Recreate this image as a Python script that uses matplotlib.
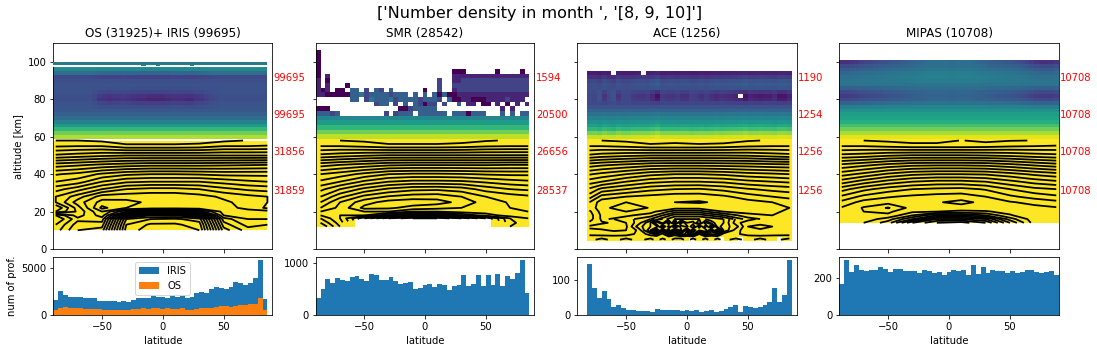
import matplotlib
matplotlib.use("Agg")
import matplotlib.pyplot as plt
import numpy as np

W, H = 1097, 353
nan = np.nan

titles = ["OS (31925)+ IRIS (99695)", "SMR (28542)", "ACE (1256)", "MIPAS (10708)"]
red_labels = [["99695", "99695", "31856", "31859"],
              ["1594", "20500", "26656", "28537"],
              ["1190", "1254", "1256", "1256"],
              ["10708", "10708", "10708", "10708"]]
red_alts = [91.7, 71.7, 51.7, 31.2]

# number of profiles per 4 degree latitude bin
iris_counts = [1600, 2550, 2150, 1950, 1950, 1950, 1850, 1850, 1800, 1550, 1500, 1500, 1500, 1400, 1500,
               1400, 1600, 1850, 1850, 1850, 2050, 1950, 1950, 1850, 2050, 1950, 2050, 1850, 1900,
               2350, 2500, 2400, 2750, 3000, 2900, 2800, 3000, 3550, 3400, 3200, 3400, 3950, 5900, 1750]
os_counts = [550, 750, 850, 800, 750, 750, 650, 650, 600, 600, 500, 500, 500, 500, 500, 500, 600, 650, 750,
             650, 750, 750, 650, 750, 650, 650, 750, 550, 550, 650, 750, 750, 800, 850, 950, 950, 850,
             1000, 1050, 1050, 1150, 1200, 1800, 550]
smr_counts = [330, 503, 697, 619, 716, 677, 658, 735, 755, 697, 658, 794, 774, 677, 677, 735, 658, 600, 619,
              639, 503, 523, 581, 600, 542, 600, 581, 484, 561, 581, 774, 561, 600, 774, 561, 774, 581, 794,
              561, 755, 697, 813, 1065, 426]
ace_counts = [145, 77, 49, 69, 46, 23, 29, 20, 14, 14, 11, 11, 11, 9, 17, 14, 14, 14, 14, 11, 14, 11, 14, 9,
              11, 14, 9, 11, 17, 23, 29, 9, 26, 23, 20, 23, 29, 37, 77, 37, 57, 157]
mipas_counts = [169, 300, 235, 273, 245, 240, 245, 245, 262, 251, 235, 251, 251, 240, 240, 240, 229, 245, 240,
                229, 235, 218, 235, 245, 240, 245, 218, 273, 225, 262, 229, 245, 240, 240, 229, 240, 229, 235,
                245, 245, 235, 229, 235, 240, 218]

# colour value (0-1 of viridis) by altitude, above 59 km
os_alts = [60, 62, 64, 66, 68, 70, 72, 74, 76, 78, 80, 82, 84, 86, 88, 90, 92, 94, 96, 98]
os_profile = [.88, .78, .66, .54, .43, .35, .30, .27, .26, .25, .24, .24, .25, .25, .25, .24, .22, .36, .46, .50]
os_weight = [0, 0, 0, 0, 0, 0, 0, 0, -.03, -.07, -.14, -.11, -.05, -.01, 0, 0, -.03, -.04, 0, 0]
os_shape = [0, 0, 0, 0, 0, 0, 0, 0, .2, .6, .7, .8, .7, .7, .6, .7, .8, .9, .9, 1, 1, 1, 1, .9, .8, .8, .8,
            .9, .9, .7, .6, .4, .2, .1, 0, 0, 0, 0, 0, 0, 0, 0, 0, 0]
os_gap_cols = [18, 21, 28]

ace_alts = [60, 62, 64, 66, 68, 70, 72, 74, 76, 78, 80, 82, 84, 86, 88, 90, 92, 94]
ace_profile = [.92, .80, .66, .57, .50, .44, .38, .31, .25, .21, .19, .18, .21, .24, .25, .22, .15, .08]
ace_weight = [.03, .05, .05, .04, .03, .02, .02, .01, 0, -.03, -.12, -.14, -.08, .02, .05, .05, .04, .02]
ace_shape = [-.3, -.2, -.5, .2, -.3, -.5, .2, -.2, -.2, .1, .2, .2, .1, .5, 1, .1, .2, .2, .1, .3, .3, 0, .1,
             .3, .1, .3, .5, .3, .4, .5, .6, .7, 1, .6, .7, .8, .7, .7, .5, .9, .9, .6]
ace_holes = [(17, 5), (17, 11), (11, 31)]
ace_bottom = [4.5] * 21 + [6.5] + [4.5] * 5 + [6.5] + [4.5] * 3 + [6.5] + [4.5] * 7 + [6.5] + [4.5] * 2

mipas_alts = [60, 62, 64, 66, 68, 70, 72, 74, 76, 78, 80, 82, 84, 86, 88, 90, 92, 94, 96, 98, 100]
mipas_profile = [.96, .87, .78, .70, .63, .58, .56, .50, .44, .35, .28, .25, .28, .33, .38, .40, .40, .38, .34, .30, .26]
mipas_weight = [0, 0, 0, 0, 0, 0, 0, 0, .02, .04, .06, .08, .06, .03, 0, .02, .04, .05, .06, .08, .12]
mipas_shape = [-1, -1, -.9, -.8, -.6, -.5, -.4, -.3, -.2, -.1, 0, .1, .2, .3, .4, .5, .6, .7, .8, .8, .8, .8,
               .7, .7, .8, .8, .8, .7, .6, .5, .4, .3, .2, .2, .1, 0, -.1, -.3, -.5, -.7, -.9, -1, -1, -1, -.8]

# SMR above 71 km, one row of 44 cells per 2.5 km from the top, '.' is no data, digit is colour/10
smr_rows = ["0...........................................",
            "0...........................................",
            "0...........................................",
            "0...........................................",
            "0...........................000......0....0.",
            "0.1.........................1111111111111111",
            "1.0......................2..1122222222222222",
            "1.1...0..................2..2222222222222222",
            "101.00.33.2.32.3......0..2..1222222222222222",
            "1100000334233332333.3.3.303001111111111111111",
            ".......33.2433342333323332.3001100011112111",
            "............233.2.3.32022.2..3.11.00.1.0.1.1",
            "000..............00233333.............1.1...",
            "33323.........2.2333.333333.3330333...3.3.33"]
smr_low_alts = [60, 62.5, 65, 67.5, 70]
smr_low_values = [.90, .78, .66, .55, .46]
smr_bottom = [11.6, 11.6, 11.6, 11.6, 11.6, 11.6, 11.6, 11.6, 16.4, 16.4, 16.4, 16.4, 16.4, 16.4, 16.4, 16.4,
              16.4, 16.4, 16.4, 16.4, 16.4, 16.4, 16.4, 16.4, 16.4, 16.4, 16.4, 16.4, 16.4, 16.4, 16.4, 16.4,
              16.4, 16.4, 16.4, 16.4, 11.6, 11.6, 11.6, 11.6, 11.6, 11.6, 11.6, 11.6]

# density in contour level units, rows are altitudes, columns latitudes
z_lats = [-88, -70, -50, -30, -10, 10, 30, 50, 70, 86]
os_z_alts = [10, 13, 16, 18, 20, 22, 25, 28, 32, 36, 40, 45, 50, 55, 58]
os_z = [[17.5, 15, 14.5, 5.5, 4.5, 4.5, 5, 13.5, 15.5, 15],
        [18, 15.5, 15.5, 6, 4.8, 4.8, 5.5, 14.5, 16.4, 16],
        [19, 16.3, 16.5, 7, 6, 5.8, 6.5, 15.5, 17, 17],
        [18, 15.5, 17.5, 11, 8, 8, 10, 17, 17.3, 17.2],
        [13, 15.2, 18, 15, 13, 13, 14.5, 17.4, 17.4, 17.4],
        [12, 15.5, 19.3, 18, 17.8, 17.7, 17.7, 17.4, 16.7, 15.8],
        [14, 16.5, 18.4, 18.3, 17.8, 17.7, 17.6, 17.2, 16.6, 16],
        [14, 15.5, 17.5, 17.6, 17.7, 17.7, 17.4, 16.8, 16.3, 16],
        [12.6, 13.6, 15, 16, 16.3, 16.3, 16, 15.3, 14.8, 14.6],
        [11, 11.5, 13, 13.8, 14, 14, 14, 13.6, 13.2, 13],
        [9.9, 10.3, 11.2, 11.8, 12, 12, 11.9, 11.7, 11.7, 11.7],
        [7.5, 7.8, 8.2, 8.5, 8.7, 8.7, 8.7, 8.8, 8.9, 9],
        [4.2, 4.5, 4.8, 5, 5, 5, 5, 5, 5, 5],
        [1.9, 2, 2, 1.4, 1.4, 1.4, 1.5, 2, 2, 2.1],
        [1, 1, .8, .2, .2, .2, .4, .8, 1.05, 1.1]]

smr_lats = [-86, -70, -50, -30, -10, 10, 30, 50, 70, 85]
smr_z_alts = [12, 14, 16.4, 18, 20, 22, 25, 28, 32, 36, 40, 45, 50, 55, 58]
smr_z = [[21, 18, nan, nan, nan, nan, nan, nan, 16, 17],
         [20, 17.5, nan, nan, nan, nan, nan, nan, 15.7, 16.6],
         [19, 17, 13, 9, 7, 7, 9, 12, 16, 17],
         [18, 17, 17, 15, 13, 13, 15, 16.5, 17.5, 17.5],
         [17, 18, 18, 18, 17, 17, 17.5, 17.5, 17.2, 17],
         [16, 17.3, 19.3, 19.2, 18.6, 18.3, 18, 17.5, 17, 16.7],
         [15, 17, 18.6, 19.4, 19.6, 19.4, 18.7, 17.5, 16.9, 16.5],
         [14, 15.7, 17.3, 18.1, 18.5, 18.6, 18, 17, 16.5, 16.2],
         [12.7, 14, 15.3, 16.2, 16.7, 16.8, 16.5, 15.6, 15, 14.8],
         [11.2, 12, 13.2, 14, 14.3, 14.3, 14.2, 13.8, 13.4, 13.2],
         [10, 10.5, 11.3, 12, 12.2, 12.2, 12.1, 11.9, 11.8, 11.8],
         [7.6, 8, 8.4, 8.8, 8.9, 8.9, 8.9, 8.9, 9, 9],
         [4.3, 4.6, 4.9, 5.1, 5.1, 5.1, 5.1, 5.1, 5.1, 5.1],
         [2, 2, 1.8, 1.5, 1.5, 1.5, 1.6, 1.9, 2, 2],
         [1.1, 1, .8, .2, .2, .2, .5, .9, 1.1, 1.1]]

ace_lats = [-80, -70, -50, -30, -10, 10, 30, 50, 70, 84]
ace_z_alts = [16, 18, 20, 22, 25, 28, 32, 36, 40, 45, 50, 55, 58]
ace_z = [[15.5, 17.2, 16.5, 15, 12, 12, 13, 15.5, 16.5, 16.3],
         [15.5, 17.2, 17.2, 16.5, 13.5, 13.5, 15, 16.7, 17, 16.6],
         [15.8, 17.4, 18, 17.4, 15.5, 15.5, 17, 17.3, 17.2, 16.8],
         [16.4, 17.6, 18.8, 17.9, 17.4, 17.4, 17.6, 17.5, 17.2, 17],
         [16, 17.6, 18, 18, 18, 18.1, 17.8, 17.4, 17, 16.6],
         [14.5, 16.4, 17, 17.3, 17.6, 17.6, 17.2, 16.5, 16, 15.7],
         [13.2, 14.3, 15, 15.7, 16, 16.1, 15.7, 15.1, 14.7, 14.5],
         [11.5, 12, 13, 13.7, 14, 14, 13.8, 13.3, 13, 12.8],
         [9.9, 10.3, 11, 11.7, 12, 12, 11.8, 11.4, 11.2, 11],
         [7.5, 7.8, 8.2, 8.6, 8.7, 8.7, 8.6, 8.5, 8.3, 8.2],
         [4.2, 4.5, 4.8, 5, 5, 5, 5, 4.9, 4.6, 4.4],
         [2, 2, 1.8, 1.5, 1.5, 1.5, 1.6, 1.9, 2, 2],
         [1.1, 1, .8, .2, .6, .2, .4, .9, 1.1, 1.1]]
ace_low_lats = [-80, -70, -60, -50, -40, -30, -25, -20, -15, -10, -5, 0, 5, 10, 15, 20, 25, 30, 40, 50, 60, 70, 84]
ace_low_alts = [5, 6.5, 8, 10, 12, 14, 16]
ace_low_z = [[15.7, 16.3, 15.7, 16.3, 15.7, 16.3, 15.7, 16.3, 15.7, 16.3, 16.3, 15.7, 16.3, 15.7, 16.3, 15.7, 16.3, 15.7, 16.3, 15.7, 16.3, 15.7, 16.3],
             [15.6, 15.6, 15.6, 15.6, 15.6, 15.6, 15.6, 15.6, 15.6, 15.6, 15.6, 15.6, 15.6, 15.6, 15.6, 15.6, 15.6, 15.6, 15.6, 15.6, 15.6, 15.6, 15.6],
             [16.3, 16.4, 16.6, 16.4, 15.8, 14.5, 13.5, 15.5, 10.5, 14.5, 12, 13.5, 9.5, 15, 11.5, 14, 13, 15.5, 15.8, 16.4, 16.6, 16.4, 16.3],
             [16.8, 16.9, 17.1, 17, 15.8, 12, 9.5, 13.5, 8.4, 12, 9.6, 13, 8.3, 10, 9.2, 12.5, 8.7, 13, 15.5, 16.8, 16.9, 16.8, 16.7],
             [17.2, 17.3, 17.4, 17.2, 14.5, 13, 12.5, 8.6, 11.5, 7.4, 10.5, 9.7, 12, 8.4, 11.5, 7.5, 12.5, 13.5, 14.5, 17, 17.2, 17, 17],
             [16.2, 16.9, 17.1, 17, 15.5, 13, 10, 12.5, 9, 14, 8.5, 11, 10.5, 13, 9.4, 11.5, 12.5, 13, 15.5, 16.8, 16.8, 16.7, 16.5],
             [15.5, 17.2, 17, 16.5, 15.7, 15, 13.5, 13, 12, 12, 12, 12, 12, 12, 12, 12.5, 13, 13, 15.1, 15.5, 16.3, 16.5, 16.3]]

mipas_lats = [-88, -70, -50, -30, -10, 10, 30, 50, 70, 88]
mipas_z_alts = [14, 16, 18, 20, 22, 25, 28, 32, 36, 40, 45, 50, 55, 58]
mipas_z = [[17.5, 17, 15.5, 11, 9, 8.5, 10, 14, 17.5, 17.5],
           [17.5, 17.6, 16.5, 14, 11, 11, 12, 15.5, 17.6, 17.5],
           [17.3, 17.9, 17.8, 16, 14, 14, 15, 16.9, 17.7, 17.5],
           [17.2, 18, 18.2, 17.2, 17, 16.8, 16.9, 17.3, 17.6, 17.3],
           [17.1, 18.1, 19.1, 17.6, 17.6, 17.5, 17.5, 17.5, 17.3, 17.1],
           [16.3, 17.4, 17.6, 17.7, 17.9, 18.3, 17.7, 17.1, 16.7, 16.3],
           [15.2, 16.3, 16.9, 17.2, 17.4, 17.5, 17, 16.2, 15.6, 15.2],
           [13.6, 14.7, 15.5, 16, 16.2, 16.3, 15.9, 15, 14.3, 14],
           [11.5, 12.5, 13.4, 14, 14.3, 14.3, 14, 13.3, 12.6, 12.2],
           [9.6, 10.3, 11.2, 11.8, 12, 12, 11.9, 11.4, 10.8, 10.4],
           [7.2, 7.7, 8.3, 8.7, 8.8, 8.8, 8.7, 8.3, 7.8, 7.4],
           [4.3, 4.5, 4.9, 5.1, 5.1, 5.1, 5, 4.8, 4.5, 4.3],
           [2, 2, 1.8, 1.6, 1.6, 1.6, 1.7, 1.9, 2, 2.1],
           [1.05, 1, .8, .5, .5, 1.05, .7, .95, 1.02, 1.05]]


def px_axes(fig, left, right, top, bottom):
    return fig.add_axes([left / W, 1 - bottom / H, (right - left) / W, (bottom - top) / H])


# draws the band of colours above 59 km from a profile and a latitude shape
def draw_upper(ax, lat_edges, alts, profile, weight, shape, holes=()):
    alts = np.array(alts, dtype=float)
    edges = np.append(alts - 1, alts[-1] + 1)
    c = np.array(profile)[:, None] + np.outer(weight, shape)
    for row, col in holes:
        c[row, col] = nan
    ax.pcolormesh(lat_edges, edges, c, cmap="viridis", vmin=0, vmax=1)


# yellow part under 59 km, bottom is given per latitude column
def draw_lower(ax, lat_edges, bottom, top=59):
    y_edges = np.unique(list(bottom) + [top])
    c = np.ones((len(y_edges) - 1, len(lat_edges) - 1))
    c = np.ma.masked_where(y_edges[:-1][:, None] < np.array(bottom)[None, :] - .01, c)
    ax.pcolormesh(lat_edges, y_edges, c, cmap="viridis", vmin=0, vmax=1)


fig = plt.figure(figsize=(W / 72, H / 72), dpi=72)
x_pos = [(53.3, 272.3), (315.7, 534.3), (577.3, 796.7), (839.3, 1058.7)]
levels = np.arange(1, 22)
lw = 1.8
tops = []
bots = []
for left, right in x_pos:
    tops.append(px_axes(fig, left, right, 43.3, 249))
    bots.append(px_axes(fig, left, right, 257.3, 315))

lat44 = np.arange(-90, 87, 4)
lat42 = np.arange(-82, 87, 4)
lat45 = np.arange(-90, 91, 4)

# OS + IRIS
ax = tops[0]
draw_upper(ax, lat44, os_alts, os_profile, os_weight, os_shape)
ax.axhspan(97.9, 98.4, color="white", zorder=3)
ax.pcolormesh(lat44, [98.4, 100], np.full((1, 44), .40), cmap="viridis", vmin=0, vmax=1, zorder=4)
gap_row = np.full((1, 44), nan)
gap_row[0, os_gap_cols] = .45
ax.pcolormesh(lat44, [97.9, 98.4], gap_row, cmap="viridis", vmin=0, vmax=1, zorder=4)
draw_lower(ax, lat44, [10] * 44, top=58)
ax.contour(z_lats, os_z_alts, os_z, levels=levels, colors="k", linewidths=lw)

# SMR
ax = tops[1]
smr_c = np.array([[nan if ch == "." else int(ch) / 10 for ch in row[:44].ljust(44, ".")] for row in smr_rows])
smr_edges = 106.25 - 2.5 * np.arange(len(smr_rows) + 1)
ax.pcolormesh(lat44, smr_edges[::-1], smr_c[::-1], cmap="viridis", vmin=0, vmax=1)
low_edges = np.append(np.array(smr_low_alts) - 1.25, smr_low_alts[-1] + 1.25)
ax.pcolormesh(lat44, low_edges, np.array(smr_low_values)[:, None] * np.ones((1, 44)), cmap="viridis", vmin=0, vmax=1)
draw_lower(ax, lat44, smr_bottom, top=58.75)
ax.contour(smr_lats, smr_z_alts, smr_z, levels=levels, colors="k", linewidths=lw)

# ACE
ax = tops[2]
draw_upper(ax, lat42, ace_alts, ace_profile, ace_weight, ace_shape, holes=ace_holes)
draw_lower(ax, lat42, ace_bottom)
ax.contour(ace_lats, ace_z_alts, ace_z, levels=levels, colors="k", linewidths=lw)
ax.contour(ace_low_lats, ace_low_alts, ace_low_z, levels=levels, colors="k", linewidths=lw)

# MIPAS
ax = tops[3]
draw_upper(ax, lat45, mipas_alts, mipas_profile, mipas_weight, mipas_shape)
draw_lower(ax, lat45, [14] * 45)
ax.contour(mipas_lats, mipas_z_alts, mipas_z, levels=levels, colors="k", linewidths=lw)

for ax, title, labels in zip(tops, titles, red_labels):
    ax.set_xlim(-90, 90)
    ax.set_ylim(0, 110)
    ax.set_xticks([-50, 0, 50])
    ax.set_xticklabels([])
    ax.set_yticks(np.arange(0, 101, 20))
    ax.set_title(title, fontsize=12)
    for alt, lab in zip(red_alts, labels):
        ax.text(91.2, alt, lab, color="red", fontsize=10, va="center", ha="left")
for ax in tops[1:]:
    ax.set_yticklabels([])
tops[0].set_ylabel("altitude [km]")

# histograms
bots[0].bar(lat44[:-1], iris_counts, width=4, align="edge", color="C0", label="IRIS")
bots[0].bar(lat44[:-1], os_counts, width=4, align="edge", color="C1", label="OS")
bots[1].bar(lat44[:-1], smr_counts, width=4, align="edge", color="C0")
bots[2].bar(lat42[:-1], ace_counts, width=4, align="edge", color="C0")
bots[3].bar(lat45[:-1], mipas_counts, width=4, align="edge", color="C0")

y_tops = [6200, 1116, 165, 314]
y_ticks = [[0, 5000], [0, 1000], [0, 100], [0, 200]]
for ax, ytop, yt in zip(bots, y_tops, y_ticks):
    ax.set_xlim(-90, 90)
    ax.set_ylim(0, ytop)
    ax.set_xticks([-50, 0, 50])
    ax.set_yticks(yt)
    ax.set_xlabel("latitude")
bots[0].set_ylabel("num of prof.")
bots[0].legend(loc="upper center", bbox_to_anchor=(0.5, 1.0))

fig.text(540 / W, 1 - 13.5 / H, "['Number density in month ', '[8, 9, 10]']", fontsize=16, ha="center", va="center")
fig.savefig("out.png", dpi=72)
